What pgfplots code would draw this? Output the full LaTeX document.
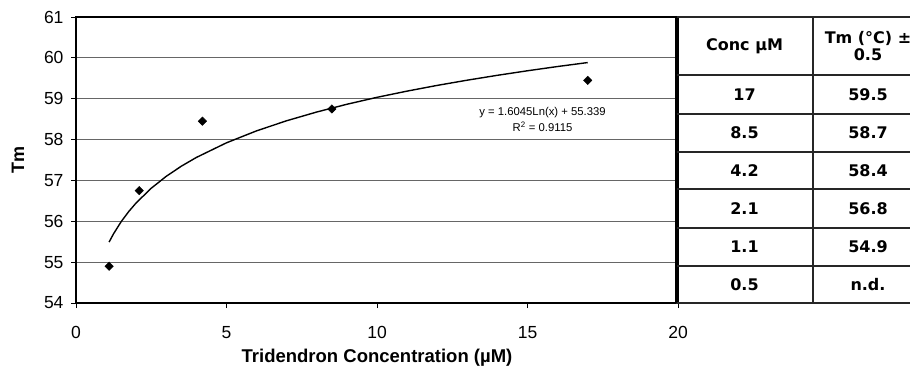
\documentclass[border=0pt]{standalone}
\usepackage{pgfplots}
\pgfplotsset{compat=1.18}
\usepackage{fontspec}
\setmainfont{Liberation Sans}
\newfontfamily\tabfont{DejaVu Sans}
\begin{document}
\begin{tikzpicture}
\useasboundingbox (0pt,0pt) rectangle (910pt,-377pt);
\begin{axis}[
  at={(76pt,-303pt)}, anchor=south west,
  scale only axis, width=602pt, height=286pt,
  xmin=0, xmax=20, ymin=54, ymax=61,
  xtick={0,5,10,15,20}, ytick={54,55,...,61},
  axis line style={black, line width=1.6pt},
  tick pos=left,
  tick align=outside, major tick length=5pt,
  tick style={black, line width=0.8pt},
  ymajorgrids, grid style={black!60, line width=0.9pt},
  /pgf/number format/assume math mode=true,
  ticklabel style={font=\fontsize{17.5}{19}\selectfont},
  xticklabel style={yshift=-15pt},
  yticklabel style={xshift=-4pt},
  xlabel={\textbf{Tridendron Concentration (µM)}},
  xlabel style={at={(axis description cs:0.5,0)}, anchor=center, yshift=-55pt, font=\fontsize{18.5}{20}\selectfont},
  ylabel={\textbf{Tm}},
  ylabel style={at={(axis description cs:0,0.5)}, anchor=center, yshift=58pt, font=\fontsize{18}{20}\selectfont},
  clip=false,
]
\addplot[black, line width=1.4pt] coordinates {
(1.1,55.492) (1.25,55.697) (1.5,55.990) (1.75,56.237) (2,56.451) (2.5,56.809)
(3,57.102) (3.5,57.349) (4,57.563) (5,57.921) (6,58.214) (7,58.461) (8,58.675)
(9,58.864) (10,59.034) (11,59.186) (12,59.326) (13,59.454) (14,59.573)
(15,59.684) (16,59.788) (17,59.885)};
\addplot[only marks, mark=square*, mark size=3pt, mark options={black, rotate=45}] coordinates {
(1.1,54.9) (2.1,56.75) (4.2,58.45) (8.5,58.75) (17,59.45)};
\node[align=center, font=\fontsize{11.3}{16}\selectfont] at (axis cs:15.5,58.5)
  {y = 1.6045Ln(x) + 55.339\\R\textsuperscript{2} = 0.9115};
\end{axis}
% table
\begin{scope}[black!85, line width=1.3pt]
\draw (676pt,-17pt) -- (930pt,-17pt);
\foreach \yy in {75,114,152,189,228,266,303} \draw (676pt,-\yy pt) -- (930pt,-\yy pt);
\draw[black, line width=1.8pt] (676pt,-16pt) -- (676pt,-303pt);
\draw (813pt,-17pt) -- (813pt,-303pt);
\end{scope}
\begin{scope}[font=\tabfont\bfseries\fontsize{16}{17.5}\selectfont]
\node at (744.5pt,-46pt) {Conc µM};
\node[align=center, font=\tabfont\bfseries\fontsize{16}{17.5}\selectfont] at (868pt,-46pt) {Tm (°C) ±\\0.5};
\node at (744.5pt,-94.5pt) {17};   \node at (868pt,-94.5pt) {59.5};
\node at (744.5pt,-133pt) {8.5};   \node at (868pt,-133pt) {58.7};
\node at (744.5pt,-170.5pt) {4.2}; \node at (868pt,-170.5pt) {58.4};
\node at (744.5pt,-208.5pt) {2.1}; \node at (868pt,-208.5pt) {56.8};
\node at (744.5pt,-247pt) {1.1};   \node at (868pt,-247pt) {54.9};
\node at (744.5pt,-284.5pt) {0.5}; \node at (868pt,-284.5pt) {n.d.};
\end{scope}
\end{tikzpicture}
\end{document}
